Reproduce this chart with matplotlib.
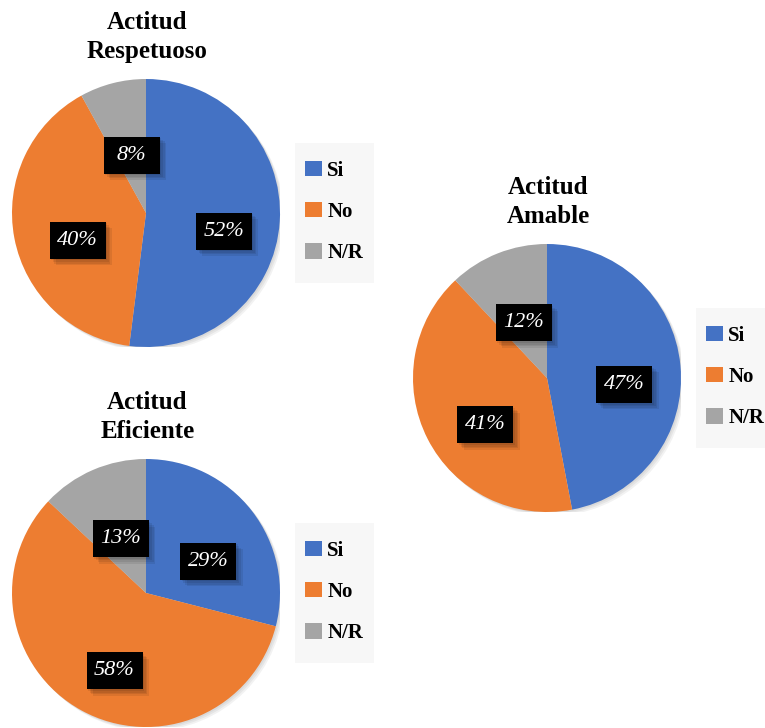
import matplotlib
matplotlib.use('Agg')
import matplotlib.pyplot as plt
from matplotlib.patches import Rectangle, Circle

# %% data

categories = ['Si', 'No', 'N/R']
titles = ['Actitud\nRespetuoso', 'Actitud\nAmable', 'Actitud\nEficiente']
respetuoso = [52, 40, 8]
amable = [47, 41, 12]
eficiente = [29, 58, 13]
colors = ['#4472C4', '#ED7D31', '#A5A5A5']

# %% layout (pixel boxes of each pie: left, top)
W, H = 765, 728
R = 134
pie_boxes = [(12, 79), (413, 244), (12, 459)]
series = [respetuoso, amable, eficiente]

# label box size in data units (radius = 1)
BOX_W, BOX_H = 56 / R, 37 / R

plt.rcParams['font.family'] = ['Liberation Serif', 'DejaVu Serif']
fig = plt.figure(figsize=(W / 100, H / 100), dpi=100)
fig.patch.set_facecolor('white')

for (left, top), values, title in zip(pie_boxes, series, titles):
    ax = fig.add_axes([left / W, (H - top - 2 * R) / H, 2 * R / W, 2 * R / H])

    # soft shadow behind the pie
    for k in range(3):
        ax.add_patch(Circle((0.01 * (k + 1), -0.01 * (k + 1)), 1.0,
                            facecolor='black', alpha=0.05, lw=0, zorder=0))

    wedges, texts, autotexts = ax.pie(values, colors=colors, startangle=90, counterclock=False,
                                      autopct='%1.0f%%', pctdistance=0.55, radius=1,
                                      wedgeprops=dict(linewidth=0))
    for w in wedges:
        w.set_zorder(1)
    for t in autotexts:
        x, y = t.get_position()
        x, y = x + 0.03, y - 0.10   # excel style label box placement
        t.set_position((x, y))
        t.set_color('white')
        t.set_fontstyle('italic')
        t.set_fontsize(16)
        t.set_zorder(6)
        # blurred shadow of the label box
        for k in range(4):
            d = 0.012 * (k + 1)
            ax.add_patch(Rectangle((x - BOX_W / 2 + d, y - BOX_H / 2 - d), BOX_W, BOX_H,
                                   facecolor='black', alpha=0.08, lw=0, zorder=4))
        ax.add_patch(Rectangle((x - BOX_W / 2, y - BOX_H / 2), BOX_W, BOX_H,
                               facecolor='black', lw=0, zorder=5))

    ax.set_xlim(-1, 1)
    ax.set_ylim(-1, 1)
    ax.set_aspect('equal')
    ax.axis('off')

    ax.text(0.01, 1.31, title, ha='center', va='center', fontsize=18, fontweight='bold',
            linespacing=1.33)

    # legend background
    ax.add_patch(Rectangle((1.11, -0.52), 0.59, 1.04, facecolor='#f7f7f7', edgecolor='none',
                           clip_on=False, zorder=0))
    ax.legend(wedges, categories, loc='center left', bbox_to_anchor=(1.095, 0.505),
              frameon=False, borderpad=0, borderaxespad=0, handlelength=0.8, handleheight=0.8,
              handletextpad=0.25, labelspacing=1.0,
              prop=dict(family='Liberation Serif', weight='bold', size=15))

fig.savefig('out.png', dpi=100, facecolor='white')
